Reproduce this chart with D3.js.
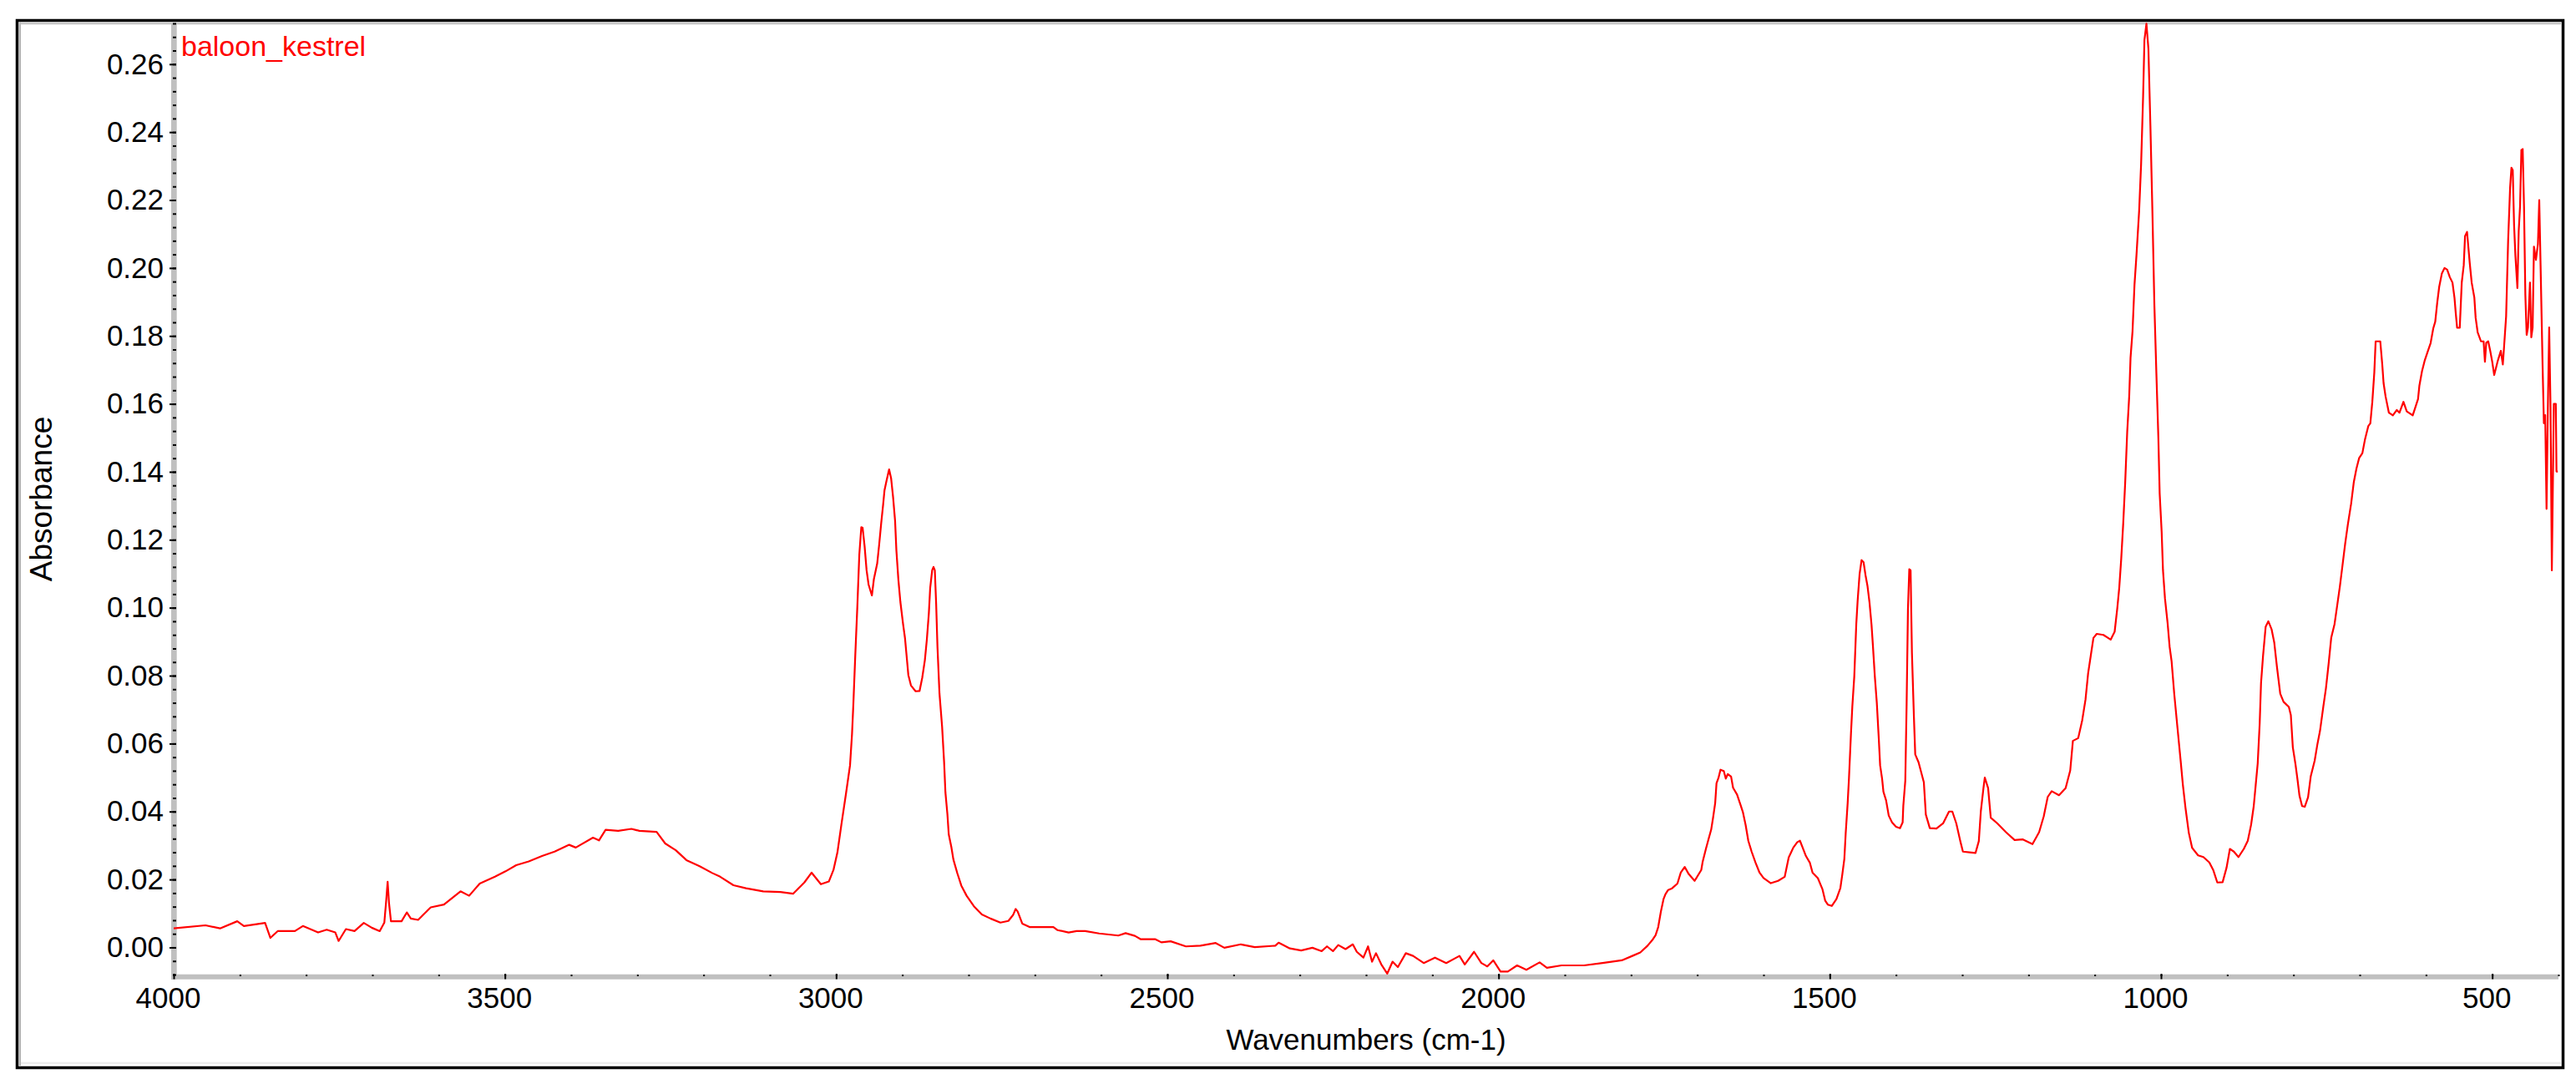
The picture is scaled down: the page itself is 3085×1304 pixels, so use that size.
<!DOCTYPE html>
<html>
<head>
<meta charset="utf-8">
<script src="https://cdn.jsdelivr.net/npm/d3@7"></script>
<style>
  body { margin: 0; background: #fff; }
  text { font-family: "Liberation Sans", Arial, sans-serif; fill: #000; }
</style>
</head>
<body>
<div id="chart"></div>
<script>
// Spectrum
const seriesName = "baloon_kestrel";
const wavenumbers = [
  4000, 3952, 3930, 3904, 3894, 3862, 3854, 3843, 3817, 3805, 3782, 3769, 3756, 3751, 3740, 3727,
  3713, 3701, 3689, 3682, 3679, 3677, 3675, 3672, 3656, 3648, 3642, 3631, 3612, 3592, 3567, 3554,
  3538, 3515, 3499, 3483, 3464, 3444, 3425, 3403, 3393, 3367, 3358, 3348, 3329, 3309, 3297, 3271,
  3258, 3242, 3226, 3206, 3187, 3175, 3155, 3136, 3110, 3084, 3065, 3048, 3037, 3023, 3011, 3004,
  2998, 2992, 2985, 2979, 2976, 2974, 2971, 2968, 2965, 2962, 2960, 2957, 2954, 2951, 2946, 2943,
  2938, 2935, 2932, 2929, 2927, 2924, 2920, 2917, 2914, 2911, 2909, 2906, 2903, 2899, 2896, 2894,
  2891, 2887, 2880, 2874, 2870, 2866, 2863, 2860, 2858, 2855, 2853, 2851, 2849, 2847, 2844, 2840,
  2837, 2835, 2832, 2830, 2826, 2823, 2817, 2811, 2803, 2792, 2780, 2767, 2752, 2740, 2733, 2729,
  2726, 2719, 2708, 2672, 2666, 2649, 2637, 2624, 2603, 2574, 2563, 2549, 2540, 2518, 2509, 2495,
  2472, 2450, 2427, 2414, 2389, 2368, 2337, 2332, 2315, 2298, 2281, 2267, 2259, 2250, 2242, 2231,
  2220, 2214, 2204, 2197, 2191, 2185, 2177, 2168, 2160, 2152, 2140, 2129, 2113, 2096, 2079, 2059,
  2051, 2037, 2026, 2017, 2008, 1997, 1986, 1972, 1958, 1938, 1927, 1905, 1871, 1843, 1814, 1798,
  1786, 1775, 1767, 1763, 1759, 1755, 1751, 1748, 1744, 1738, 1730, 1725, 1719, 1713, 1704, 1694,
  1692, 1687, 1683, 1679, 1676, 1673, 1671, 1668, 1665, 1660, 1657, 1654, 1649, 1646, 1640, 1635,
  1631, 1627, 1623, 1618, 1612, 1606, 1600, 1589, 1578, 1568, 1562, 1555, 1549, 1545, 1541, 1536,
  1530, 1526, 1518, 1511, 1507, 1503, 1497, 1490, 1484, 1481, 1478, 1476, 1473, 1471, 1468, 1466,
  1463, 1460, 1458, 1455, 1452, 1449, 1446, 1443, 1440, 1437, 1435, 1432, 1429, 1426, 1424, 1421,
  1419, 1415, 1411, 1406, 1400, 1394, 1390, 1389, 1386, 1384, 1382, 1380, 1378, 1376, 1373, 1371,
  1366, 1358, 1355, 1349, 1339, 1329, 1320, 1315, 1309, 1303, 1299, 1289, 1280, 1275, 1272, 1268,
  1266, 1261, 1257, 1247, 1234, 1221, 1209, 1194, 1184, 1177, 1171, 1165, 1154, 1144, 1137, 1133,
  1125, 1119, 1114, 1110, 1106, 1102, 1097, 1087, 1076, 1070, 1066, 1063, 1060, 1057, 1054, 1051,
  1048, 1046, 1043, 1040, 1037, 1033, 1030, 1027, 1025, 1022, 1019, 1016, 1013, 1010, 1007, 1004,
  1002, 999, 997, 994, 990, 987, 984, 980, 975, 970, 967, 963, 958, 953, 944, 936,
  927, 921, 915, 907, 901, 896, 890, 883, 875, 869, 864, 860, 857, 854, 851, 849,
  846, 842, 838, 833, 829, 825, 820, 815, 807, 804, 801, 797, 794, 791, 787, 783,
  778, 774, 768, 764, 760, 755, 751, 747, 743, 738, 734, 730, 726, 722, 718, 713,
  709, 705, 701, 696, 692, 687, 684, 681, 678, 676, 669, 666, 664, 661, 656, 650,
  644, 640, 634, 629, 620, 616, 612, 610, 606, 602, 597, 593, 589, 586, 583, 580,
  576, 572, 568, 564, 560, 557, 555, 553, 549, 546, 543, 541, 538, 534, 531, 527,
  525, 522, 517, 513, 511, 509, 506, 503, 500, 497, 492, 487, 484, 482, 479, 476,
  473, 471, 469, 467, 465, 462, 460, 458, 456, 454, 452, 450, 448, 446, 443, 441,
  439, 437, 434, 431, 429, 427, 424, 422, 420, 418, 416, 414, 412, 410, 407, 404,
  403, 401
];
const absorbance = [
  0.0056, 0.0065, 0.0056, 0.0077, 0.0063, 0.0072, 0.0028, 0.0048, 0.0048, 0.0063, 0.0044, 0.0052, 0.0044, 0.0019, 0.0054, 0.0048,
  0.0072, 0.0058, 0.0048, 0.0073, 0.0142, 0.0193, 0.0132, 0.0077, 0.0077, 0.0103, 0.0085, 0.0081, 0.0118, 0.0126, 0.0165, 0.0152,
  0.0188, 0.0208, 0.0224, 0.0242, 0.0253, 0.0269, 0.0282, 0.0302, 0.0294, 0.0323, 0.0315, 0.0346, 0.0343, 0.0349, 0.0343, 0.0340,
  0.0306, 0.0286, 0.0257, 0.0239, 0.0219, 0.0208, 0.0183, 0.0174, 0.0165, 0.0163, 0.0158, 0.0191, 0.0220, 0.0186, 0.0194, 0.0228,
  0.0280, 0.0362, 0.0454, 0.0536, 0.0628, 0.0715, 0.0864, 0.1002, 0.1156, 0.1237, 0.1235, 0.1181, 0.1110, 0.1068, 0.1036, 0.1084,
  0.1130, 0.1186, 0.1248, 0.1304, 0.1345, 0.1373, 0.1407, 0.1381, 0.1325, 0.1256, 0.1168, 0.1082, 0.1017, 0.0953, 0.0910, 0.0867,
  0.0802, 0.0771, 0.0754, 0.0755, 0.0794, 0.0846, 0.0907, 0.0984, 0.1058, 0.1110, 0.1120, 0.1110, 0.1012, 0.0884, 0.0748, 0.0649,
  0.0546, 0.0456, 0.0392, 0.0333, 0.0295, 0.0259, 0.0218, 0.0182, 0.0152, 0.0121, 0.0097, 0.0085, 0.0073, 0.0078, 0.0095, 0.0113,
  0.0106, 0.0070, 0.0060, 0.0060, 0.0051, 0.0044, 0.0048, 0.0048, 0.0041, 0.0035, 0.0042, 0.0034, 0.0024, 0.0024, 0.0015, 0.0018,
  0.0003, 0.0005, 0.0013, -0.0001, 0.0009, 0.0001, 0.0005, 0.0014, -0.0003, -0.0009, -0.0001, -0.0011, 0.0003, -0.0011, 0.0007, -0.0005,
  0.0009, -0.0013, -0.0030, 0.0003, -0.0042, -0.0017, -0.0050, -0.0077, -0.0042, -0.0058, -0.0017, -0.0025, -0.0046, -0.0030, -0.0046, -0.0025,
  -0.0050, -0.0013, -0.0046, -0.0056, -0.0038, -0.0071, -0.0071, -0.0053, -0.0066, -0.0044, -0.0060, -0.0053, -0.0053, -0.0046, -0.0038, -0.0025,
  -0.0015, 0.0005, 0.0024, 0.0036, 0.0060, 0.0105, 0.0142, 0.0157, 0.0169, 0.0174, 0.0188, 0.0220, 0.0237, 0.0216, 0.0196, 0.0228,
  0.0251, 0.0290, 0.0319, 0.0347, 0.0384, 0.0425, 0.0483, 0.0499, 0.0523, 0.0519, 0.0497, 0.0510, 0.0503, 0.0470, 0.0450, 0.0421,
  0.0397, 0.0360, 0.0314, 0.0282, 0.0249, 0.0220, 0.0204, 0.0189, 0.0196, 0.0208, 0.0265, 0.0294, 0.0310, 0.0314, 0.0294, 0.0269,
  0.0249, 0.0220, 0.0204, 0.0171, 0.0138, 0.0126, 0.0122, 0.0142, 0.0175, 0.0216, 0.0261, 0.0335, 0.0425, 0.0499, 0.0630, 0.0708,
  0.0798, 0.0952, 0.1019, 0.1099, 0.1140, 0.1134, 0.1095, 0.1063, 0.1015, 0.0950, 0.0892, 0.0798, 0.0720, 0.0614, 0.0536, 0.0496,
  0.0458, 0.0433, 0.0388, 0.0368, 0.0355, 0.0351, 0.0368, 0.0417, 0.0491, 0.0716, 0.0995, 0.1113, 0.1110, 0.0868, 0.0679, 0.0568,
  0.0545, 0.0486, 0.0391, 0.0351, 0.0350, 0.0365, 0.0400, 0.0400, 0.0365, 0.0313, 0.0282, 0.0280, 0.0278, 0.0313, 0.0400, 0.0469,
  0.0500, 0.0469, 0.0382, 0.0365, 0.0339, 0.0316, 0.0318, 0.0304, 0.0339, 0.0386, 0.0443, 0.0460, 0.0448, 0.0469, 0.0521, 0.0608,
  0.0616, 0.0668, 0.0729, 0.0807, 0.0859, 0.0911, 0.0923, 0.0920, 0.0906, 0.0929, 0.0998, 0.1059, 0.1145, 0.1249, 0.1371, 0.1518,
  0.1622, 0.1735, 0.1813, 0.1951, 0.2038, 0.2168, 0.2307, 0.2506, 0.2671, 0.2719, 0.2645, 0.2419, 0.2168, 0.1891, 0.1691, 0.1501,
  0.1336, 0.1223, 0.1110, 0.1027, 0.0954, 0.0885, 0.0842, 0.0746, 0.0644, 0.0542, 0.0479, 0.0410, 0.0337, 0.0293, 0.0271, 0.0266,
  0.0250, 0.0227, 0.0191, 0.0192, 0.0235, 0.0290, 0.0282, 0.0266, 0.0290, 0.0314, 0.0361, 0.0416, 0.0479, 0.0542, 0.0660, 0.0778,
  0.0857, 0.0944, 0.0960, 0.0936, 0.0897, 0.0826, 0.0747, 0.0723, 0.0708, 0.0684, 0.0589, 0.0539, 0.0495, 0.0447, 0.0416, 0.0414,
  0.0442, 0.0503, 0.0550, 0.0597, 0.0637, 0.0708, 0.0763, 0.0834, 0.0912, 0.0952, 0.1007, 0.1062, 0.1125, 0.1188, 0.1244, 0.1306,
  0.1369, 0.1409, 0.1440, 0.1455, 0.1496, 0.1535, 0.1543, 0.1606, 0.1692, 0.1784, 0.1784, 0.1716, 0.1661, 0.1622, 0.1574, 0.1566,
  0.1582, 0.1574, 0.1606, 0.1578, 0.1566, 0.1590, 0.1614, 0.1653, 0.1696, 0.1727, 0.1756, 0.1779, 0.1822, 0.1842, 0.1898, 0.1945,
  0.1984, 0.2000, 0.1995, 0.1973, 0.1957, 0.1913, 0.1866, 0.1824, 0.1824, 0.1957, 0.2008, 0.2094, 0.2106, 0.2016, 0.1957, 0.1913,
  0.1853, 0.1811, 0.1784, 0.1784, 0.1724, 0.1780, 0.1784, 0.1756, 0.1724, 0.1685, 0.1724, 0.1756, 0.1716, 0.1771, 0.1858, 0.2079,
  0.2236, 0.2295, 0.2288, 0.2126, 0.2036, 0.1941, 0.2109, 0.2181, 0.2347, 0.2350, 0.2181, 0.1921, 0.1803, 0.1825, 0.1957, 0.1796,
  0.1825, 0.2063, 0.2024, 0.2070, 0.2200, 0.2008, 0.1716, 0.1543, 0.1567, 0.1291, 0.1586, 0.1825, 0.1590, 0.1110, 0.1600, 0.1600,
  0.1401, 0.1401
];
const xTickValues = [4000, 3500, 3000, 2500, 2000, 1500, 1000, 500];
const yTickValues = [0, 0.02, 0.04, 0.06, 0.08, 0.10, 0.12, 0.14, 0.16, 0.18, 0.20, 0.22, 0.24, 0.26];
const xDomain = [4000, 400];
const yDomain = [-0.008, 0.272];

const W = 3085, H = 1304;
const plot = { left: 208, right: 3064, top: 28, bottom: 1167 };

const svg = d3.select("#chart")
    .append("svg")
    .attr("width", W)
    .attr("height", H);

const x = d3.scaleLinear().domain(xDomain).range([plot.left, plot.right]);
const y = d3.scaleLinear().domain(yDomain).range([plot.bottom, plot.top]);

// window frame with a sunken edge
svg.append("rect")
    .attr("x", 20.5).attr("y", 24.5)
    .attr("width", 3049).attr("height", 1254)
    .attr("fill", "none").attr("stroke", "#000").attr("stroke-width", 3.5);
svg.append("line")
    .attr("x1", 23.8).attr("x2", 23.8).attr("y1", 26).attr("y2", 1276)
    .attr("stroke", "#b4b4b4").attr("stroke-width", 2.4);
svg.append("line")
    .attr("x1", 22).attr("x2", 3067).attr("y1", 28.2).attr("y2", 28.2)
    .attr("stroke", "#c0c0c0").attr("stroke-width", 2);
svg.append("line")
    .attr("x1", 25).attr("x2", 3067).attr("y1", 1273).attr("y2", 1273)
    .attr("stroke", "#ececec").attr("stroke-width", 2.4);

// grey axis bars
svg.append("rect")
    .attr("x", 205).attr("y", plot.top)
    .attr("width", 6.7).attr("height", 1173 - plot.top)
    .attr("fill", "#c0c0c0");
svg.append("rect")
    .attr("x", 205).attr("y", 1166.7)
    .attr("width", plot.right - 205).attr("height", 6)
    .attr("fill", "#c0c0c0");

// y axis: minor then major ticks
const yMinor = d3.range(-0.008, 0.2721, 0.004);
svg.append("g")
    .attr("transform", "translate(211,0)")
    .call(d3.axisLeft(y).tickValues(yMinor).tickSize(4).tickFormat(""))
    .call(g => g.select(".domain").remove())
    .call(g => g.selectAll("line").attr("stroke", "#000").attr("stroke-width", 2));

svg.append("g")
    .attr("transform", "translate(211,0)")
    .call(d3.axisLeft(y).tickValues(yTickValues).tickSize(8).tickPadding(7)
        .tickFormat(d3.format(".2f")))
    .call(g => g.select(".domain").remove())
    .call(g => g.selectAll("line").attr("stroke", "#000").attr("stroke-width", 2))
    .call(g => g.selectAll("text")
        .attr("font-size", 35)
        .attr("font-family", "'Liberation Sans', Arial, sans-serif")
        .attr("fill", "#000"));

// x axis: minor dots then major ticks
const xMinor = d3.range(4000, 399, -100);
svg.append("g")
    .attr("transform", "translate(0,1167)")
    .call(d3.axisBottom(x).tickValues(xMinor).tickSize(2).tickFormat(""))
    .call(g => g.select(".domain").remove())
    .call(g => g.selectAll("line").attr("stroke", "#000").attr("stroke-width", 2));

svg.append("g")
    .attr("transform", "translate(0,1166)")
    .call(d3.axisBottom(x).tickValues(xTickValues).tickSize(6.5).tickFormat(d3.format("d")))
    .call(g => g.select(".domain").remove())
    .call(g => g.selectAll("line").attr("stroke", "#000").attr("stroke-width", 2))
    .call(g => g.selectAll("text")
        .attr("y", 41).attr("dy", null).attr("dx", -7)
        .attr("font-size", 35)
        .attr("font-family", "'Liberation Sans', Arial, sans-serif")
        .attr("fill", "#000"));

// axis titles
svg.append("text")
    .attr("x", (plot.left + plot.right) / 2)
    .attr("y", 1257)
    .attr("text-anchor", "middle")
    .attr("font-size", 35)
    .text("Wavenumbers (cm-1)");

svg.append("text")
    .attr("transform", `translate(61.5,${(plot.top + plot.bottom) / 2}) rotate(-90)`)
    .attr("text-anchor", "middle")
    .attr("font-size", 37)
    .text("Absorbance");

// spectrum
svg.append("clipPath").attr("id", "plotClip")
    .append("rect")
    .attr("x", plot.left).attr("y", plot.top - 1)
    .attr("width", plot.right - plot.left).attr("height", plot.bottom - plot.top + 1);

const spectrum = wavenumbers.map((w, i) => ({ w: w, a: absorbance[i] }));

const line = d3.line()
    .x(d => x(d.w))
    .y(d => y(d.a));

svg.append("path")
    .datum(spectrum)
    .attr("clip-path", "url(#plotClip)")
    .attr("fill", "none")
    .attr("stroke", "#ff0000")
    .attr("stroke-width", 2.2)
    .attr("stroke-linejoin", "round")
    .attr("d", line);

// series label
svg.append("text")
    .attr("x", 217)
    .attr("y", 67)
    .attr("font-size", 34)
    .style("fill", "#ff0000")
    .text(seriesName);
</script>
</body>
</html>
